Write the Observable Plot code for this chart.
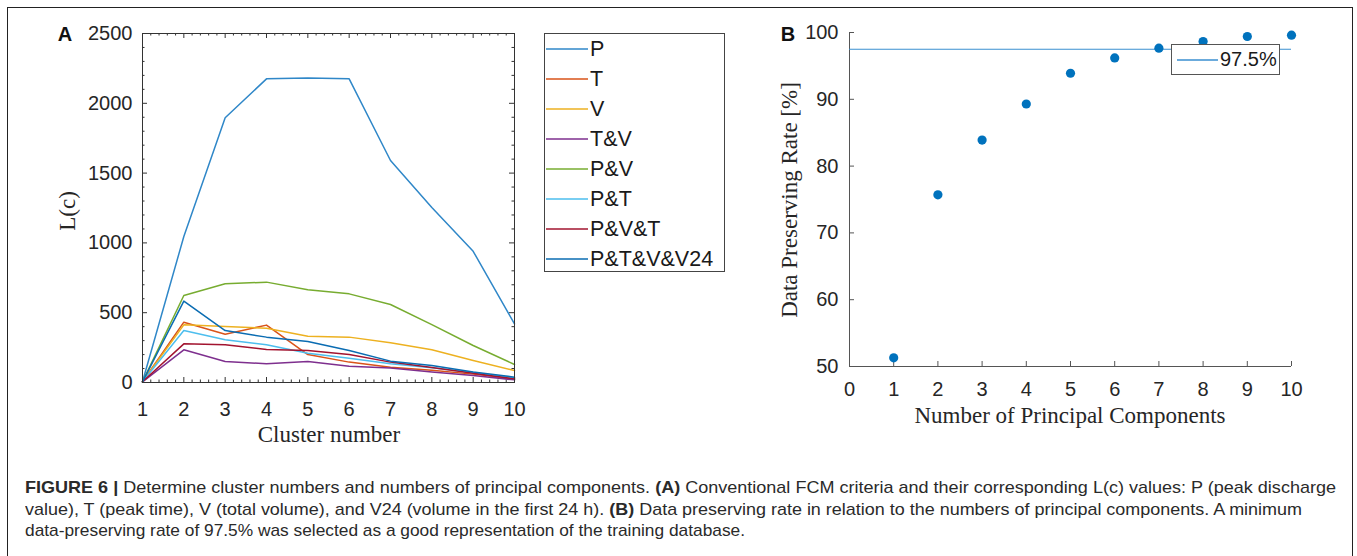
<!DOCTYPE html>
<html><head><meta charset="utf-8">
<script src="https://cdn.jsdelivr.net/npm/d3@7"></script>
<script src="https://cdn.jsdelivr.net/npm/@observablehq/plot@0.6"></script>
<style>
html,body{margin:0;padding:0;background:#fff;}
body{width:1357px;height:556px;overflow:hidden;position:relative;font-family:"Liberation Sans",Arial,sans-serif;color:#262626;}
.abs{position:absolute;}
#frame{left:7px;top:7px;width:1346px;height:560px;border:1.5px solid #222;border-bottom:none;box-sizing:border-box;}
.panel{font-weight:bold;font-size:20px;color:#111;transform:translate(-50%,-50%);}
.atitle{font-family:"Liberation Serif","Times New Roman",serif;font-size:23px;color:#262626;white-space:nowrap;}
#legA{left:544px;top:33px;width:181px;height:239px;border:1px solid #444;box-sizing:border-box;background:#fff;}
.li{position:absolute;left:1px;height:24px;display:flex;align-items:center;font-size:21.5px;color:#1a1a1a;white-space:nowrap;}
.li svg, #legB svg{display:block;margin-right:2px;}
#legB{left:1171px;top:44px;width:109px;height:31px;border:1px solid #555;box-sizing:border-box;background:#fff;display:flex;align-items:center;font-size:20px;color:#1a1a1a;}
.cap{left:25px;font-size:17px;color:#2a2a2a;white-space:nowrap;transform-origin:0 50%;line-height:20px;}
</style></head>
<body>
<div id="frame" class="abs"></div>
<div id="plotA" class="abs" style="left:0;top:0"></div>
<div id="plotB" class="abs" style="left:700px;top:0"></div>
<div class="abs panel" style="left:65px;top:34px">A</div>
<div class="abs panel" style="left:788px;top:34px">B</div>
<div class="abs atitle" style="left:68px;top:211px;transform:translate(-50%,-50%) rotate(-90deg)">L(c)</div>
<div class="abs atitle" style="left:329px;top:435px;transform:translate(-50%,-50%)">Cluster number</div>
<div class="abs atitle" style="left:790px;top:200px;transform:translate(-50%,-50%) rotate(-90deg)">Data Preserving Rate [%]</div>
<div class="abs atitle" style="left:1070px;top:416px;transform:translate(-50%,-50%)">Number of Principal Components</div>
<div id="legA" class="abs"></div>
<div id="legB" class="abs"></div>
<div id="cap1" class="abs cap" style="top:478px"><b>FIGURE 6 |</b> Determine cluster numbers and numbers of principal components. <b>(A)</b> Conventional FCM criteria and their corresponding L(c) values: P (peak discharge</div>
<div id="cap2" class="abs cap" style="top:499.5px">value), T (peak time), V (total volume), and V24 (volume in the first 24 h). <b>(B)</b> Data preserving rate in relation to the numbers of principal components. A minimum</div>
<div id="cap3" class="abs cap" style="top:521px">data-preserving rate of 97.5% was selected as a good representation of the training database.</div>
<script>
// ---------- Panel A data ----------
const clusters = [1, 2, 3, 4, 5, 6, 7, 8, 9, 10];
const seriesNames = ["P", "T", "V", "T&V", "P&V", "P&T", "P&V&T", "P&T&V&V24"];
const seriesColors = ["#2f87c8", "#d95319", "#edb120", "#7e2f8e", "#77ac30", "#4dbeee", "#a2142f", "#0a6cb2"];
const P      = [5, 1046, 1896, 2175, 2182, 2175, 1590, 1253, 940, 420];
const T      = [5, 432, 346, 411, 200, 146, 110, 88, 60, 26];
const V      = [5, 413, 401, 389, 332, 325, 284, 234, 158, 86];
const TV     = [5, 234, 150, 134, 150, 117, 103, 76, 50, 19];
const PV     = [5, 623, 707, 719, 664, 635, 559, 415, 265, 129];
const PT     = [5, 372, 306, 270, 210, 174, 134, 106, 72, 34];
const PVT    = [5, 277, 270, 236, 229, 200, 146, 108, 66, 26];
const PTVV24 = [5, 583, 372, 325, 294, 229, 153, 122, 76, 38];
const seriesValues = [P, T, V, TV, PV, PT, PVT, PTVV24];
const xTicksA = [1, 2, 3, 4, 5, 6, 7, 8, 9, 10];
const yTicksA = [0, 500, 1000, 1500, 2000, 2500];

// ---------- Panel B data ----------
const components = [1, 2, 3, 4, 5, 6, 7, 8, 9, 10];
const preservingRate = [51.3, 75.7, 83.9, 89.3, 93.9, 96.2, 97.65, 98.65, 99.4, 99.6];
const threshold = [97.5];
const thresholdLabel = "97.5%";
const xTicksB = [0, 1, 2, 3, 4, 5, 6, 7, 8, 9, 10];
const yTicksB = [50, 60, 70, 80, 90, 100];

const rowsA = [];
seriesNames.forEach((s, i) => clusters.forEach((c, j) => rowsA.push({s, c, v: seriesValues[i][j]})));
const rowsB = components.map((c, i) => ({c, r: preservingRate[i]}));

const axisColor = "#333";
const font = {fontFamily: "'Liberation Sans', Arial, sans-serif", fontSize: "20px", color: "#262626", background: "transparent", overflow: "visible"};

// Panel A
{
  const W = 540, H = 460, mL = 142, mR = W - 514, mT = 33, mB = H - 382;
  const iH = H - mT - mB, iW = W - mL - mR;
  const minorX = d3.range(1, 10.001, 0.2).filter(v => Math.abs(v - Math.round(v)) > 1e-6);
  const minorY = d3.range(0, 2501, 100).filter(v => v % 500 !== 0);
  const chart = Plot.plot({
    width: W, height: H, marginLeft: mL, marginRight: mR, marginTop: mT, marginBottom: mB,
    style: font,
    x: {domain: [1, 10], label: null},
    y: {domain: [0, 2500], label: null},
    color: {domain: seriesNames, range: seriesColors},
    marks: [
      Plot.axisX(xTicksA, {tickSize: 0, tickPadding: 19, tickFormat: d => String(d), fill: "#262626"}),
      Plot.axisY(yTicksA, {tickSize: 0, tickPadding: 10, tickFormat: d => String(d), fill: "#262626"}),
      Plot.tickX(xTicksA, {x: d => d, insetTop: iH - 5, stroke: axisColor}),
      Plot.tickX(xTicksA, {x: d => d, insetBottom: iH - 5, stroke: axisColor}),
      Plot.tickX(minorX, {x: d => d, insetTop: iH - 2.5, stroke: axisColor}),
      Plot.tickX(minorX, {x: d => d, insetBottom: iH - 2.5, stroke: axisColor}),
      Plot.tickY(yTicksA, {y: d => d, insetRight: iW - 5, stroke: axisColor}),
      Plot.tickY(yTicksA, {y: d => d, insetLeft: iW - 5, stroke: axisColor}),
      Plot.tickY(minorY, {y: d => d, insetRight: iW - 2.5, stroke: axisColor}),
      Plot.tickY(minorY, {y: d => d, insetLeft: iW - 2.5, stroke: axisColor}),
      Plot.line(rowsA, {x: "c", y: "v", z: "s", stroke: "s", strokeWidth: 1.5}),
      Plot.frame({stroke: axisColor, strokeWidth: 1})
    ]
  });
  document.getElementById("plotA").append(chart);
}

// Panel B
{
  const W = 640, H = 460, mL = 849 - 700, mR = W - (1291 - 700), mT = 32, mB = H - 366;
  const iH = H - mT - mB, iW = W - mL - mR;
  const chart = Plot.plot({
    width: W, height: H, marginLeft: mL, marginRight: mR, marginTop: mT, marginBottom: mB,
    style: font,
    x: {domain: [0, 10], label: null},
    y: {domain: [50, 100], label: null},
    marks: [
      Plot.axisX(xTicksB, {tickSize: 0, tickPadding: 15, tickFormat: d => String(d), fill: "#262626"}),
      Plot.axisY(yTicksB, {tickSize: 0, tickPadding: 11, tickFormat: d => String(d), fill: "#262626"}),
      Plot.tickX(xTicksB, {x: d => d, insetTop: iH - 5, stroke: "#555"}),
      Plot.tickY(yTicksB, {y: d => d, insetRight: iW - 5, stroke: "#555"}),
      Plot.ruleX([0], {stroke: "#555"}),
      Plot.ruleY([50], {stroke: "#555"}),
      Plot.ruleY(threshold, {y: d => d, stroke: "#3a8fd0", strokeWidth: 1.1}),
      Plot.dot(rowsB, {x: "c", y: "r", r: 4.6, fill: "#0072bd", stroke: "none"})
    ]
  });
  document.getElementById("plotB").append(chart);
}

function legendLine(color, w) {
  return `<svg width="${w}" height="6"><line x1="0" x2="${w}" y1="3" y2="3" stroke="${color}" stroke-width="1.3"/></svg>`;
}
// Legend A
{
  const leg = document.getElementById("legA");
  seriesNames.forEach((s, i) => {
    const row = document.createElement("div");
    row.className = "li";
    row.style.top = (15 - 12 + i * 30) + "px";
    row.innerHTML = legendLine(seriesColors[i], 42);
    row.append(document.createTextNode(s));
    leg.append(row);
  });
}
// Legend B
{
  const leg = document.getElementById("legB");
  leg.innerHTML = legendLine("#3a8fd0", 41).replace("<svg", '<svg style="margin-left:5px"');
  leg.append(document.createTextNode(thresholdLabel));
}

// Caption width fitting
function fitCaption() {
  const targets = {cap1: 1311, cap2: 1277, cap3: 720};
  for (const [id, w] of Object.entries(targets)) {
    const el = document.getElementById(id);
    el.style.transform = "none";
    const nat = el.getBoundingClientRect().width;
    el.style.transform = `scaleX(${w / nat})`;
  }
}
fitCaption();
if (document.fonts && document.fonts.ready) document.fonts.ready.then(fitCaption);
</script>
</body></html>
